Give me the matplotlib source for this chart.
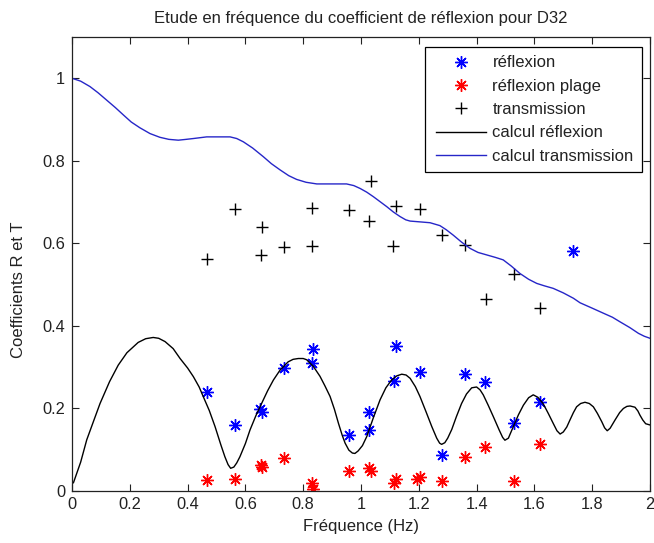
import matplotlib
matplotlib.use("Agg")
import matplotlib.pyplot as plt
from matplotlib.legend_handler import HandlerLine2D

plt.rcParams['font.family'] = ['Liberation Sans', 'DejaVu Sans']

# --- data -------------------------------------------------------------
refl_x = [0.468, 0.565, 0.650, 0.656, 0.735, 0.829, 0.833, 0.960, 1.029, 1.029,
          1.114, 1.121, 1.204, 1.279, 1.360, 1.429, 1.531, 1.619, 1.732]
refl_y = [0.241, 0.160, 0.198, 0.192, 0.299, 0.309, 0.344, 0.136, 0.192, 0.149,
          0.267, 0.351, 0.289, 0.087, 0.283, 0.263, 0.164, 0.215, 0.582]

plage_x = [0.468, 0.565, 0.653, 0.656, 0.735, 0.829, 0.833, 0.960, 1.029, 1.033,
           1.114, 1.121, 1.193, 1.204, 1.279, 1.360, 1.429, 1.531, 1.619]
plage_y = [0.026, 0.029, 0.062, 0.057, 0.079, 0.019, 0.006, 0.048, 0.055, 0.049,
           0.019, 0.029, 0.028, 0.033, 0.025, 0.083, 0.106, 0.025, 0.113]

trans_x = [0.468, 0.565, 0.656, 0.653, 0.735, 0.829, 0.829, 0.960, 1.033, 1.029,
           1.121, 1.112, 1.204, 1.279, 1.360, 1.431, 1.531, 1.619]
trans_y = [0.561, 0.683, 0.639, 0.571, 0.590, 0.686, 0.594, 0.681, 0.752, 0.655,
           0.691, 0.594, 0.683, 0.620, 0.596, 0.465, 0.526, 0.443]

calc_refl_x = [0.005, 0.030, 0.051, 0.075, 0.097, 0.130, 0.160, 0.190, 0.229, 0.255,
               0.281, 0.300, 0.322, 0.350, 0.374, 0.400, 0.420, 0.440, 0.454, 0.475,
               0.495, 0.515, 0.529, 0.540, 0.549, 0.560, 0.570, 0.581, 0.600, 0.616,
               0.636, 0.656, 0.677, 0.697, 0.720, 0.748, 0.765, 0.783, 0.800, 0.812,
               0.835, 0.858, 0.875, 0.893, 0.908, 0.922, 0.935, 0.945, 0.958, 0.970,
               0.979, 0.990, 1.005, 1.020, 1.043, 1.066, 1.086, 1.106, 1.124, 1.141,
               1.156, 1.170, 1.188, 1.204, 1.225, 1.245, 1.262, 1.272, 1.279, 1.290,
               1.300, 1.314, 1.330, 1.348, 1.365, 1.383, 1.400, 1.412, 1.423, 1.440,
               1.458, 1.478, 1.490, 1.498, 1.510, 1.527, 1.545, 1.562, 1.580, 1.596,
               1.612, 1.630, 1.648, 1.665, 1.678, 1.689, 1.700, 1.712, 1.723, 1.735,
               1.746, 1.760, 1.775, 1.790, 1.804, 1.818, 1.833, 1.843, 1.852, 1.862,
               1.879, 1.895, 1.908, 1.920, 1.931, 1.948, 1.958, 1.965, 1.975, 1.985,
               2.000]
calc_refl_y = [0.020, 0.070, 0.124, 0.170, 0.212, 0.265, 0.305, 0.335, 0.360, 0.369,
               0.372, 0.370, 0.362, 0.345, 0.321, 0.298, 0.277, 0.252, 0.229, 0.195,
               0.156, 0.112, 0.083, 0.064, 0.055, 0.058, 0.068, 0.083, 0.115, 0.148,
               0.182, 0.212, 0.243, 0.269, 0.293, 0.313, 0.319, 0.321, 0.321, 0.318,
               0.302, 0.278, 0.255, 0.229, 0.198, 0.164, 0.135, 0.116, 0.099, 0.092,
               0.091, 0.097, 0.110, 0.132, 0.178, 0.221, 0.250, 0.269, 0.279, 0.283,
               0.281, 0.273, 0.253, 0.229, 0.192, 0.156, 0.128, 0.116, 0.113, 0.117,
               0.128, 0.149, 0.180, 0.212, 0.235, 0.250, 0.252, 0.245, 0.233, 0.208,
               0.180, 0.148, 0.130, 0.123, 0.128, 0.156, 0.185, 0.208, 0.226, 0.233,
               0.227, 0.212, 0.188, 0.164, 0.146, 0.138, 0.143, 0.155, 0.172, 0.190,
               0.204, 0.212, 0.215, 0.212, 0.204, 0.188, 0.168, 0.153, 0.146, 0.152,
               0.172, 0.190, 0.200, 0.205, 0.206, 0.203, 0.194, 0.184, 0.172, 0.163,
               0.160]

calc_trans_x = [0.000, 0.030, 0.062, 0.090, 0.120, 0.150, 0.178, 0.205, 0.235, 0.270,
                0.304, 0.335, 0.368, 0.395, 0.420, 0.466, 0.547, 0.570, 0.593, 0.625,
                0.662, 0.690, 0.720, 0.750, 0.777, 0.810, 0.847, 0.950, 0.975, 0.997,
                1.020, 1.043, 1.066, 1.089, 1.112, 1.135, 1.155, 1.170, 1.205, 1.239,
                1.273, 1.295, 1.319, 1.348, 1.377, 1.405, 1.435, 1.465, 1.492, 1.520,
                1.550, 1.580, 1.608, 1.635, 1.665, 1.700, 1.735, 1.758, 1.800, 1.838,
                1.870, 1.896, 1.930, 1.960, 1.980, 2.000]
calc_trans_y = [1.000, 0.993, 0.980, 0.965, 0.947, 0.929, 0.911, 0.894, 0.880, 0.866,
                0.857, 0.852, 0.850, 0.852, 0.854, 0.858, 0.858, 0.854, 0.846, 0.831,
                0.810, 0.793, 0.778, 0.764, 0.755, 0.748, 0.744, 0.744, 0.740, 0.733,
                0.724, 0.713, 0.701, 0.689, 0.676, 0.665, 0.657, 0.654, 0.652, 0.650,
                0.643, 0.633, 0.620, 0.603, 0.588, 0.578, 0.572, 0.566, 0.560, 0.545,
                0.527, 0.513, 0.503, 0.497, 0.491, 0.480, 0.467, 0.456, 0.443, 0.431,
                0.421, 0.410, 0.396, 0.382, 0.375, 0.370]

x_ticks = [0, 0.2, 0.4, 0.6, 0.8, 1, 1.2, 1.4, 1.6, 1.8, 2]
x_ticklabels = ['0', '0.2', '0.4', '0.6', '0.8', '1', '1.2', '1.4', '1.6', '1.8', '2']
y_ticks = [0, 0.2, 0.4, 0.6, 0.8, 1]
y_ticklabels = ['0', '0.2', '0.4', '0.6', '0.8', '1']

labels = ['réflexion', 'réflexion plage', 'transmission', 'calcul réflexion',
          'calcul transmission']

# --- figure -------------------------------------------------------------
W, H = 654, 543
fig = plt.figure(figsize=(W / 100, H / 100), dpi=100)
ax = fig.add_axes([72 / W, (H - 491) / H, (650 - 72) / W, (491 - 37) / H])

FS = 12
TFS = 11.8
TXT = '#222222'
ast = (8, 2, 0)
ax.plot(refl_x, refl_y, linestyle='none', marker=ast, color='#0000ff',
        markersize=9, markeredgewidth=1.0, label=labels[0])
ax.plot(plage_x, plage_y, linestyle='none', marker=ast, color='#ff0000',
        markersize=9, markeredgewidth=1.0, label=labels[1])
ax.plot(trans_x, trans_y, linestyle='none', marker='+', color='black',
        markersize=9, markeredgewidth=1.0, label=labels[2])
ax.plot(calc_refl_x, calc_refl_y, color='black', linewidth=1.0, label=labels[3])
ax.plot(calc_trans_x, calc_trans_y, color='#2626c8', linewidth=1.0, label=labels[4])

ax.set_xlim(0, 2)
ax.set_ylim(0, 1.1)
ax.set_xticks(x_ticks)
ax.set_xticklabels(x_ticklabels)
ax.set_yticks(y_ticks)
ax.set_yticklabels(y_ticklabels)
ax.tick_params(direction='in', length=5, width=0.8, top=True, right=True,
               labelsize=TFS, colors=TXT)
ax.tick_params(axis='x', pad=4.5)
ax.tick_params(axis='y', pad=5)
for s in ax.spines.values():
    s.set_linewidth(0.9)
    s.set_color(TXT)

ax.set_title('Etude en fréquence du coefficient de réflexion pour D32',
             fontsize=FS, color=TXT, pad=10)
ax.set_xlabel('Fréquence (Hz)', fontsize=FS, color=TXT, va='center', ha='center')
ax.xaxis.set_label_coords(0.5, (491 - 527) / 454)
ax.set_ylabel('Coefficients R et T', fontsize=FS, color=TXT, va='center', ha='center')
ax.yaxis.set_label_coords((19 - 72) / 578, (491 - 290) / 454)

hm = {h: HandlerLine2D(xpad=0.14) for h in ax.get_lines()}
leg = ax.legend(loc='upper right', bbox_to_anchor=((642 - 72) / 578, (491 - 47) / 454),
                bbox_transform=ax.transAxes, borderaxespad=0,
                fontsize=FS, frameon=True, fancybox=False, framealpha=1,
                edgecolor='black', handlelength=3.14, handletextpad=0.4,
                borderpad=0.5, labelspacing=0.5, numpoints=1,
                handler_map=hm)
leg.get_frame().set_linewidth(0.9)
for t in leg.get_texts():
    t.set_color(TXT)

fig.savefig('out.png', dpi=100)
